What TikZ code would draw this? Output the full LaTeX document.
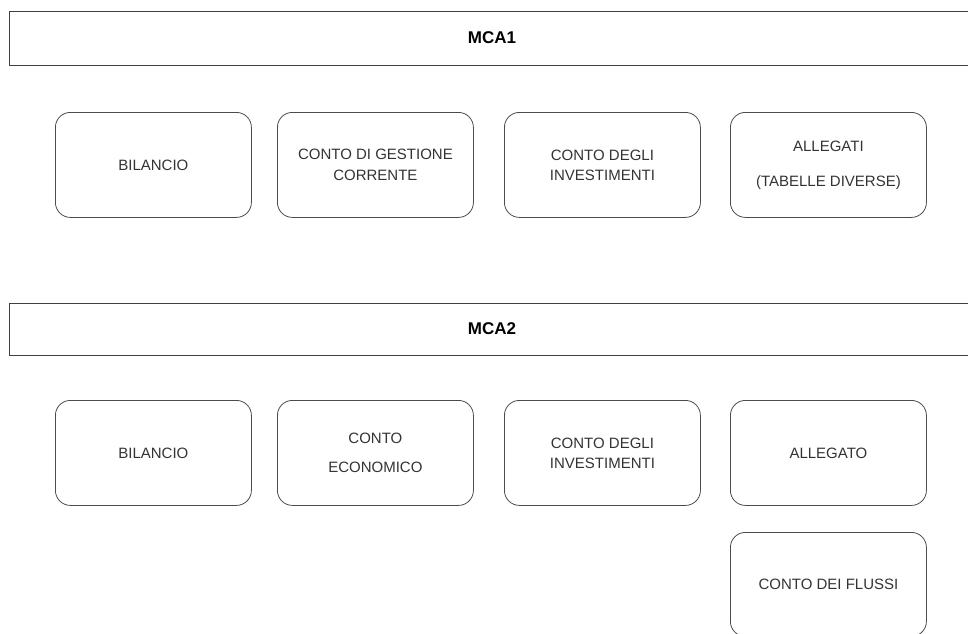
\documentclass[tikz,border=0pt]{standalone}
\usepackage{fontspec}
\setmainfont{Liberation Sans}
\begin{document}
\begin{tikzpicture}[x=1pt,y=-1pt,
  bar/.style={draw=black!75, line width=0.9pt},
  bartitle/.style={font=\fontsize{17}{19}\selectfont\bfseries, text=black},
  card/.style={draw=black!70, line width=0.8pt, rounded corners=15pt,
    minimum width=196pt, minimum height=105pt, inner sep=0pt, anchor=north west,
    align=center, text=black!80, font=\fontsize{15}{21}\selectfont}]
\useasboundingbox (0,0) rectangle (968,633);
\clip (0,0) rectangle (968,633);

% section bars (open to the right)
\node[bar, anchor=north west, minimum width=975pt, minimum height=54pt, inner sep=0pt] (mca1) at (9,11) {};
\node[bartitle] (t1) at (492,38) {MCA1};
\node[bar, anchor=north west, minimum width=975pt, minimum height=52pt, inner sep=0pt] (mca2) at (9,303) {};
\node[bartitle] (t2) at (492,329) {MCA2};

% first row
\node[card] (b1) at (55,112) {BILANCIO};
\node[card] (b2) at (277,112) {CONTO DI GESTIONE\\CORRENTE};
\node[card] (b3) at (504,112) {CONTO DEGLI\\[-1pt]INVESTIMENTI};
\node[card] (b4) at (730,112) {ALLEGATI\\[14pt](TABELLE DIVERSE)};

% second row
\node[card] (c1) at (55,400) {BILANCIO};
\node[card] (c2) at (277,400) {CONTO\\[8pt]ECONOMICO};
\node[card] (c3) at (504,400) {CONTO DEGLI\\[-1pt]INVESTIMENTI};
\node[card] (c4) at (730,400) {ALLEGATO};
\node[card, minimum height=104pt] (c5) at (730,532) {CONTO DEI FLUSSI};
\end{tikzpicture}
\end{document}
